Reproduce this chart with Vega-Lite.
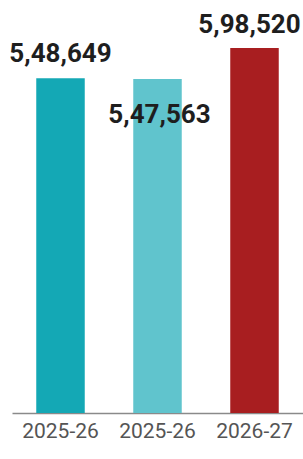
{
  "$schema": "https://vega.github.io/schema/vega-lite/v6.json",
  "autosize": "none",
  "width": 291,
  "height": 413,
  "padding": {"left": 12, "top": 0, "right": 0, "bottom": 46},
  "background": "white",
  "config": {"view": {"stroke": null}},
  "data": {
    "values": [
      {"key": "2025-26 BE", "year": "2025-26", "value": 548649, "label": "5,48,649", "place": "above"},
      {"key": "2025-26 RE", "year": "2025-26", "value": 547563, "label": "5,47,563", "place": "inside"},
      {"key": "2026-27 BE", "year": "2026-27", "value": 598520, "label": "5,98,520", "place": "edge"}
    ]
  },
  "encoding": {
    "x": {
      "field": "key",
      "type": "nominal",
      "sort": null,
      "scale": {"paddingInner": 0.5, "paddingOuter": 0.25},
      "axis": {
        "title": null,
        "labelAngle": 0,
        "labelExpr": "slice(datum.label, 0, 7)",
        "ticks": false,
        "domainColor": "#8a8a8a",
        "domainWidth": 1.5,
        "labelFont": "Roboto",
        "labelFontSize": 21,
        "labelColor": "#555555",
        "labelPadding": 7,
        "labelBaseline": "top"
      }
    },
    "y": {
      "field": "value",
      "type": "quantitative",
      "scale": {"domain": [0, 677000]},
      "axis": null
    }
  },
  "layer": [
    {
      "mark": {"type": "bar"},
      "encoding": {
        "color": {
          "field": "key",
          "type": "nominal",
          "scale": {"domain": ["2025-26 BE", "2025-26 RE", "2026-27 BE"], "range": ["#14a8b5", "#60c4cd", "#a81e20"]},
          "legend": null
        }
      }
    },
    {
      "transform": [{"filter": "datum.place === 'above'"}],
      "mark": {"type": "text", "dy": -16, "baseline": "alphabetic", "font": "Roboto", "fontWeight": "bold", "fontSize": 26, "color": "#1e1e1e"},
      "encoding": {"text": {"field": "label"}}
    },
    {
      "transform": [{"filter": "datum.place === 'edge'"}],
      "mark": {"type": "text", "dy": -15, "dx": -5, "baseline": "alphabetic", "font": "Roboto", "fontWeight": "bold", "fontSize": 26, "color": "#1e1e1e"},
      "encoding": {"text": {"field": "label"}}
    },
    {
      "transform": [{"filter": "datum.place === 'inside'"}],
      "mark": {"type": "text", "dy": 44, "dx": 2, "baseline": "alphabetic", "font": "Roboto", "fontWeight": "bold", "fontSize": 26, "color": "#1e1e1e"},
      "encoding": {"text": {"field": "label"}}
    }
  ]
}
